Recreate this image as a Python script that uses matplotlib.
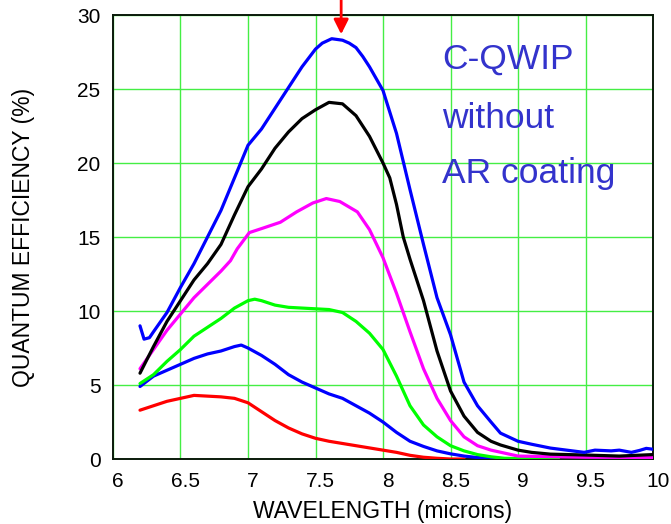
import numpy as np
import matplotlib.pyplot as plt
from matplotlib.transforms import ScaledTranslation

plt.rcParams['font.family'] = ['Liberation Sans', 'DejaVu Sans']

# === Data (wavelength in microns, QE in %) ===
wl_top = [6.2, 6.23, 6.27, 6.3, 6.4, 6.5, 6.6, 6.7, 6.8, 6.9, 7.0, 7.1, 7.2, 7.3,
          7.4, 7.5, 7.55, 7.62, 7.7, 7.75, 7.8, 7.85, 7.9, 8.0, 8.1, 8.2, 8.3,
          8.4, 8.5, 8.6, 8.7, 8.8, 8.87, 9.0, 9.1, 9.24, 9.36, 9.49, 9.57,
          9.69, 9.75, 9.84, 9.9, 9.95, 10.0]
qe_top = [9.0, 8.1, 8.2, 8.6, 9.9, 11.6, 13.2, 15.0, 16.8, 19.0, 21.2, 22.3,
          23.7, 25.1, 26.5, 27.7, 28.1, 28.4, 28.3, 28.1, 27.8, 27.2, 26.5,
          24.9, 22.0, 18.2, 14.5, 10.9, 8.4, 5.2, 3.6, 2.5, 1.75, 1.2, 1.0,
          0.74, 0.6, 0.45, 0.6, 0.55, 0.6, 0.45, 0.58, 0.72, 0.66]

wl_black = [6.2, 6.3, 6.4, 6.5, 6.6, 6.7, 6.8, 6.9, 7.0, 7.1, 7.2, 7.3, 7.4,
            7.5, 7.6, 7.7, 7.8, 7.9, 8.0, 8.05, 8.1, 8.15, 8.2, 8.3, 8.4, 8.5,
            8.6, 8.7, 8.8, 8.87, 9.0, 9.1, 9.24, 9.5, 9.75, 9.85, 10.0]
qe_black = [5.8, 7.6, 9.3, 10.7, 12.1, 13.2, 14.5, 16.5, 18.4, 19.6, 21.0,
            22.1, 23.0, 23.6, 24.1, 24.0, 23.2, 21.8, 20.0, 19.0, 17.2, 15.0,
            13.5, 10.7, 7.3, 4.6, 2.9, 1.8, 1.2, 0.95, 0.6, 0.45, 0.33, 0.27,
            0.2, 0.24, 0.3]

wl_magenta = [6.2, 6.3, 6.4, 6.5, 6.6, 6.7, 6.8, 6.87, 6.92, 7.01, 7.11, 7.24,
              7.36, 7.48, 7.58, 7.68, 7.81, 7.9, 8.0, 8.1, 8.2, 8.3, 8.4, 8.5,
              8.6, 8.7, 8.8, 8.9, 9.0, 9.5, 10.0]
qe_magenta = [6.1, 7.4, 8.7, 9.8, 10.9, 11.8, 12.7, 13.4, 14.2, 15.3, 15.6,
              16.0, 16.7, 17.3, 17.6, 17.4, 16.7, 15.5, 13.6, 11.2, 8.6, 6.1,
              4.1, 2.6, 1.5, 0.9, 0.6, 0.4, 0.2, 0.12, 0.1]

wl_green = [6.2, 6.3, 6.4, 6.5, 6.6, 6.7, 6.8, 6.9, 7.0, 7.05, 7.1, 7.2, 7.3,
            7.4, 7.5, 7.6, 7.7, 7.8, 7.9, 8.0, 8.1, 8.2, 8.3, 8.4, 8.5, 8.6,
            8.7, 8.8, 8.9, 9.0, 9.3]
qe_green = [5.1, 5.7, 6.6, 7.4, 8.3, 8.9, 9.5, 10.2, 10.7, 10.8, 10.7, 10.4,
            10.25, 10.2, 10.15, 10.1, 9.9, 9.3, 8.5, 7.4, 5.6, 3.6, 2.3, 1.5,
            0.9, 0.55, 0.3, 0.15, 0.05, 0.03, 0.0]

wl_blue2 = [6.2, 6.3, 6.4, 6.5, 6.6, 6.7, 6.8, 6.9, 6.95, 7.0, 7.1, 7.2, 7.3,
            7.4, 7.5, 7.6, 7.7, 7.8, 7.9, 8.0, 8.1, 8.2, 8.3, 8.4, 8.5, 8.6,
            8.7, 8.8, 9.0]
qe_blue2 = [4.9, 5.6, 6.0, 6.4, 6.8, 7.1, 7.3, 7.6, 7.7, 7.5, 7.0, 6.4, 5.7,
            5.2, 4.8, 4.4, 4.1, 3.6, 3.1, 2.5, 1.8, 1.2, 0.85, 0.55, 0.35, 0.2,
            0.1, 0.05, 0.0]

wl_red = [6.2, 6.3, 6.4, 6.5, 6.6, 6.7, 6.8, 6.9, 7.0, 7.1, 7.2, 7.3, 7.4, 7.5,
          7.6, 7.7, 7.8, 7.9, 8.0, 8.1, 8.2, 8.3, 8.4, 8.5, 8.6]
qe_red = [3.3, 3.6, 3.9, 4.1, 4.3, 4.25, 4.2, 4.1, 3.8, 3.2, 2.6, 2.1, 1.7,
          1.4, 1.2, 1.05, 0.9, 0.75, 0.6, 0.45, 0.25, 0.12, 0.05, 0.0, 0.0]

peak_wl = 7.69
note_lines = ['C-QWIP', 'without', 'AR coating']

fig = plt.figure(figsize=(6.71, 5.24), dpi=100)
ax = fig.add_axes([0.1684, 0.124, 0.8048, 0.8473])

series = [
    (wl_red, qe_red, '#FF0000'),
    (wl_blue2, qe_blue2, '#0000FF'),
    (wl_green, qe_green, '#00FF00'),
    (wl_magenta, qe_magenta, '#FF00FF'),
    (wl_black, qe_black, '#000000'),
    (wl_top, qe_top, '#0000FF'),
]
for wl, qe, color in series:
    ax.plot(wl, qe, color=color, linewidth=2.3, solid_capstyle='round', zorder=3)

ax.set_xlim(6, 10)
ax.set_ylim(0, 30)
ax.set_xticks(np.arange(6, 10.01, 0.5))
ax.set_xticklabels(['6', '6.5', '7', '7.5', '8', '8.5', '9', '9.5', '10'])
ax.set_yticks(np.arange(0, 31, 5))
ax.grid(True, color='#44EE44', linewidth=1.0, zorder=1)
ax.set_axisbelow(True)
ax.tick_params(length=0, labelsize=15, pad=9)
for lab in ax.get_xticklabels():
    lab.set_transform(lab.get_transform() + ScaledTranslation(5 / 100, 0, fig.dpi_scale_trans))
for spine in ax.spines.values():
    spine.set_linewidth(1.4)
    spine.set_color('#0A1A0A')

ax.set_xlabel('WAVELENGTH (microns)', fontsize=16.5, labelpad=7)
ax.set_ylabel('QUANTUM EFFICIENCY (%)', fontsize=16.5, labelpad=30)

# red arrow marking the peak
ax.annotate('', xy=(peak_wl, 28.7), xytext=(peak_wl, 31.1),
            arrowprops=dict(arrowstyle='-|>', color='#FF0000', lw=2,
                            mutation_scale=22, shrinkA=0, shrinkB=0),
            annotation_clip=False)

for txt, yb in zip(note_lines, [26.4, 22.4, 18.65]):
    ax.text(8.44, yb, txt, color='#3333CC', fontsize=25.5, va='baseline', ha='left')

fig.savefig('out.png', dpi=100)
